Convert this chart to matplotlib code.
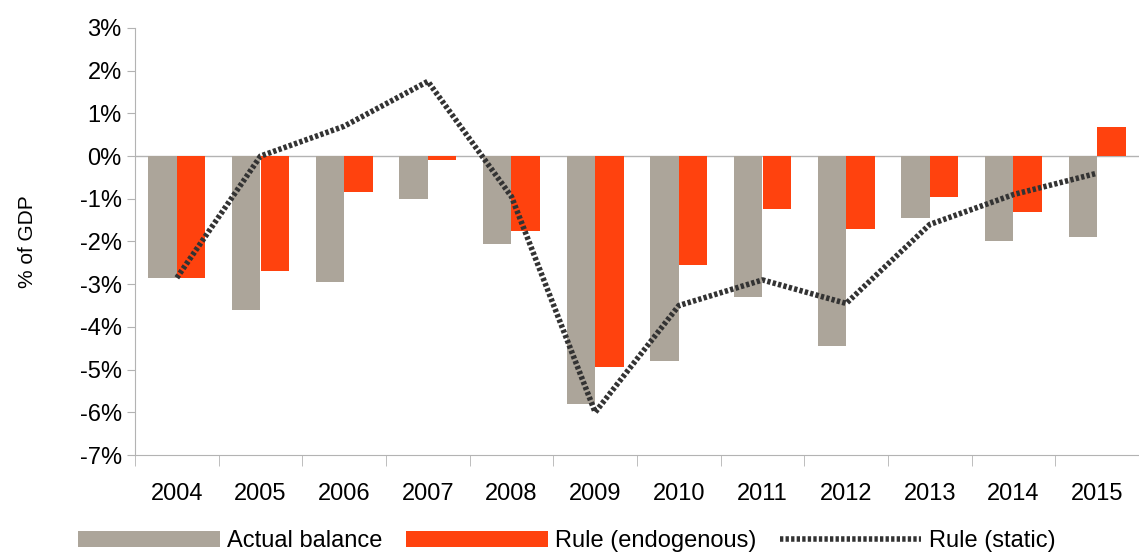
import matplotlib
matplotlib.use("Agg")
import matplotlib.pyplot as plt
import numpy as np
from matplotlib.ticker import FuncFormatter, FixedLocator

years = [str(y) for y in range(2004, 2016)]
actual = [-2.85, -3.6, -2.95, -1.0, -2.05, -5.8, -4.8, -3.3, -4.45, -1.45, -2.0, -1.9]
endog = [-2.85, -2.7, -0.85, -0.08, -1.75, -4.95, -2.55, -1.25, -1.7, -0.95, -1.3, 0.68]
static = [-2.85, 0.0, 0.7, 1.75, -0.95, -6.0, -3.5, -2.9, -3.45, -1.6, -0.9, -0.4]

plt.rcParams['font.family'] = ['Liberation Sans', 'DejaVu Sans']
fig = plt.figure(figsize=(11.39, 5.52), dpi=100)
ax = fig.add_axes([135/1139, 1-455/552, (1139-135)/1139, (455-28)/552])
x = np.arange(len(years))
w = 0.34
b1 = ax.bar(x - w/2, actual, w, color='#aca59a', label='Actual balance')
b2 = ax.bar(x + w/2, endog, w, color='#ff420e', label='Rule (endogenous)')
l1, = ax.plot(x, static, color='#333333', lw=4, ls=(0, (0.6, 0.4)), label='Rule (static)')
ax.set_xlim(-0.5, len(years) - 0.5)
ax.set_ylim(-7, 3)
ax.set_yticks(range(-7, 4))
ax.yaxis.set_major_formatter(FuncFormatter(lambda v, p: f"{int(v)}%"))
ax.set_xticks(x)
ax.set_xticklabels(years)
ax.xaxis.set_minor_locator(FixedLocator(np.arange(-0.5, len(years), 1)))
ax.tick_params(axis='x', which='major', length=0, labelsize=17, pad=20)
ax.tick_params(axis='x', which='minor', length=8, color='#b3b3b3')
ax.tick_params(axis='y', labelsize=17, length=6, color='#b3b3b3')
for s in ['top', 'right']:
    ax.spines[s].set_visible(False)
for s in ['left', 'bottom']:
    ax.spines[s].set_color('#b3b3b3')
ax.axhline(0, color='#b3b3b3', lw=1, zorder=0)
ax.set_ylabel('% of GDP', fontsize=15, labelpad=31)
ax.legend([b1, b2, l1], ['Actual balance', 'Rule (endogenous)', 'Rule (static)'],
          loc='upper center', bbox_to_anchor=(0.43, -0.165), ncol=3, frameon=False,
          fontsize=17, handlelength=6.0, columnspacing=1.0, handletextpad=0.3,
          borderaxespad=0, borderpad=0.2)
fig.savefig('out.png', dpi=100)
